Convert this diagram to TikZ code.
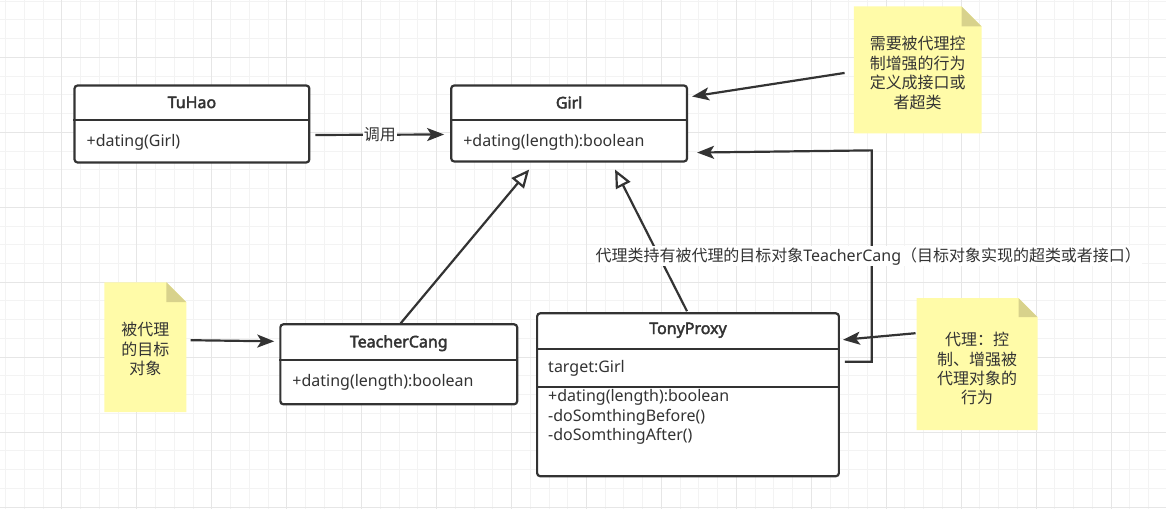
\documentclass[tikz,border=0pt]{standalone}
\usepackage{fontspec}
\setmainfont{Noto Sans}[AutoFakeBold=2.5]
\newfontfamily\cjk{Noto Sans CJK SC}
\usepackage{tikz}
\usetikzlibrary{arrows.meta,positioning,calc}

\definecolor{linegray}{HTML}{333333}
\definecolor{notefill}{HTML}{FFFBA8}
\definecolor{notefold}{HTML}{D8D28C}
\definecolor{gridminor}{HTML}{F3F3F3}
\definecolor{gridmajor}{HTML}{E6E6E6}

\begin{document}
\begin{tikzpicture}[x=1pt, y=-1pt, font=\fontsize{16}{19.5}\selectfont, text=linegray]
        \tikzset{classbox/.style={draw=linegray, line width=2.2pt, rounded corners=3pt, fill=white, anchor=north west, inner sep=0pt}}
        \tikzset{classname/.style={inner sep=0pt, font=\fontsize{16}{19.5}\selectfont\bfseries}}
        \tikzset{member/.style={anchor=west, inner sep=0pt}}
        \tikzset{divider/.style={draw=linegray, line width=2.2pt}}
        \tikzset{notetext/.style={align=center, inner sep=0pt, font=\fontsize{16}{19.5}\selectfont\cjk}}
        \tikzset{call/.style={draw=linegray, line width=2.2pt, -{Stealth[length=17pt, width=13pt, inset=4pt]}}}
        \tikzset{extends/.style={draw=linegray, line width=2.2pt, -{Triangle[open, length=18pt, width=16pt, fill=white]}}}
        \tikzset{edgelabel/.style={fill=white, inner sep=1pt}}

        % background grid
        \fill[white] (0,0) rectangle (1166,509);
        \foreach \gx in {5.25,24,...,1166} \draw[gridminor, line width=1pt] (\gx,0) -- (\gx,509);
        \foreach \gy in {0.75,19.5,...,509} \draw[gridminor, line width=1pt] (0,\gy) -- (1166,\gy);
        \foreach \gx in {61.5,136.5,...,1166} \draw[gridmajor, line width=1pt] (\gx,0) -- (\gx,509);
        \foreach \gy in {57,132,...,509} \draw[gridmajor, line width=1pt] (0,\gy) -- (1166,\gy);

        % classes
        \node[classbox, minimum width=235pt, minimum height=77pt] (tuhao) at (73,84) {};
        \draw[divider] ($(tuhao.north west)+(0,36)$) -- ($(tuhao.north east)+(0,36)$);
        \node[classname] (tuhaoname) at ($(tuhao.north)+(0,18)$) {TuHao};
        \node[member] (tuhaoop) at ($(tuhao.north west)+(13,58)$) {+dating(Girl)};

        \node[classbox, minimum width=236pt, minimum height=76pt] (girl) at (450,84) {};
        \draw[divider] ($(girl.north west)+(0,36)$) -- ($(girl.north east)+(0,36)$);
        \node[classname] (girlname) at ($(girl.north)+(0,18)$) {Girl};
        \node[member] (girlop) at ($(girl.north west)+(13,58)$) {+dating(length):boolean};

        \node[classbox, minimum width=237pt, minimum height=80pt] (teacher) at (279,323) {};
        \draw[divider] ($(teacher.north west)+(0,37)$) -- ($(teacher.north east)+(0,37)$);
        \node[classname] (teachername) at ($(teacher.north)+(0,20)$) {TeacherCang};
        \node[member] (teacherop) at ($(teacher.north west)+(13,59)$) {+dating(length):boolean};

        \node[classbox, minimum width=302pt, minimum height=163pt] (proxy) at (536,312) {};
        \draw[divider] ($(proxy.north west)+(0,37)$) -- ($(proxy.north east)+(0,37)$);
        \draw[divider] ($(proxy.north west)+(0,75)$) -- ($(proxy.north east)+(0,75)$);
        \node[classname] (proxyname) at ($(proxy.north)+(0,18)$) {TonyProxy};
        \node[member] (proxyattr) at ($(proxy.north west)+(12,56)$) {target:Girl};
        \node[member, align=left] (proxyops) at ($(proxy.north west)+(12,105)$) {+dating(length):boolean\\-doSomthingBefore()\\-doSomthingAfter()};

        % notes
        \fill[notefill] (854,6) -- (962,6) -- (982,26) -- (982,133) -- (854,133) -- cycle;
        \fill[notefold] (962,6) -- (962,26) -- (982,26) -- cycle;
        \node[notetext, minimum width=128pt, minimum height=127pt] (needsnote) at (918,72.5) {需要被代理控\\制增强的行为\\定义成接口或\\者超类};

        \fill[notefill] (104,282) -- (166,282) -- (186,302) -- (186,412) -- (104,412) -- cycle;
        \fill[notefold] (166,282) -- (166,302) -- (186,302) -- cycle;
        \node[notetext, minimum width=82pt, minimum height=130pt] (targetnote) at (145,349) {被代理\\的目标\\对象};

        \fill[notefill] (917,298) -- (1019,298) -- (1038,317) -- (1038,430) -- (917,430) -- cycle;
        \fill[notefold] (1019,298) -- (1019,317) -- (1038,317) -- cycle;
        \node[notetext, minimum width=121pt, minimum height=132pt] (proxynote) at (977.5,368.5) {代理：控\\制、增强被\\代理对象的\\行为};

        % connectors
        \draw[call] ($(tuhao.east)+(5,11)$) -- node[edgelabel] {\cjk 调用} ($(girl.west)+(-6,11)$);
        \draw[call] ($(needsnote.west)+(-9,0)$) -- ($(girl.east)+(4,-27)$);
        \draw[extends] ($(teacher.north)+(2,0)$) -- ($(girl.south)+(-40,7)$);
        \draw[extends] ($(proxy.north)+(-1,-1)$) -- ($(girl.south)+(46,7)$);
        \coordinate (holdcorner) at (872,150);
        \draw[call] ($(proxy.east)+(5,-33)$) -| node[pos=0.75, edgelabel, xshift=-3.5pt] {{\cjk 代理类持有被代理的目标对象}TeacherCang{\cjk （目标对象实现的超类或者接口）}} (holdcorner) -- ($(girl.south east)+(9,-10)$);
        \draw[call] ($(targetnote.east)+(4,-9)$) -- ($(teacher.west)+(-5,-23)$);
        \draw[call] ($(proxynote.west)+(-1,-35.5)$) -- ($(proxy.east)+(3,-55)$);
\end{tikzpicture}
\end{document}
